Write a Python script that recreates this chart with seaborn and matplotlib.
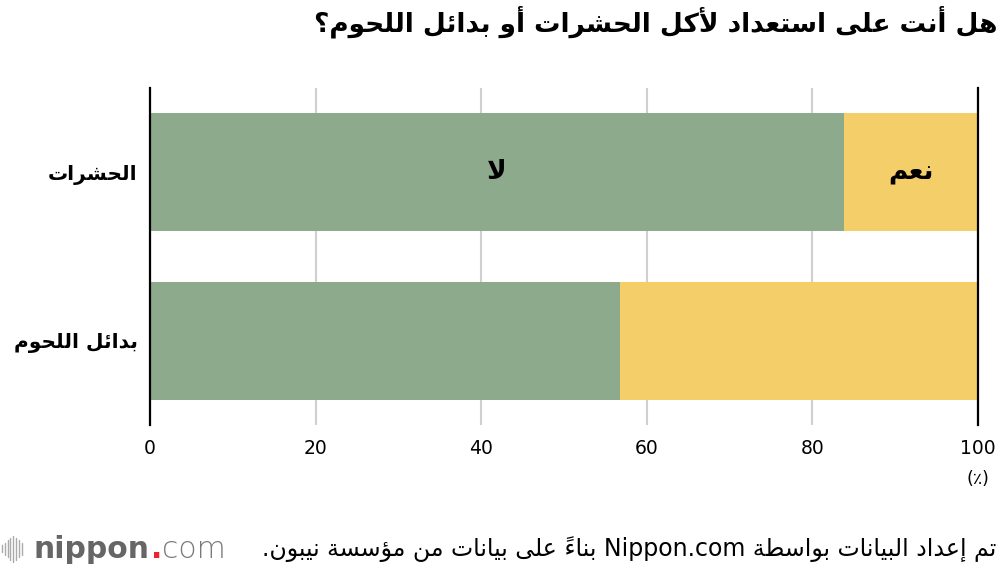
import re
import matplotlib
matplotlib.use("Agg")
import matplotlib.pyplot as plt
from matplotlib.lines import Line2D
import pandas as pd
import seaborn as sns

# data (percent)
categories = ["الحشرات", "بدائل اللحوم"]
no_values = [83.8, 56.8]
yes_values = [16.2, 43.2]
x_ticks = [0, 20, 40, 60, 80, 100]

title = "هل أنت على استعداد لأكل الحشرات أو بدائل اللحوم؟"
label_no = "لا"
label_yes = "نعم"
source = "تم إعداد البيانات بواسطة Nippon.com بناءً على بيانات من مؤسسة نيبون."

GREEN = "#8dab8c"
YELLOW = "#f4ce68"

# matplotlib has no arabic shaping, so map letters to presentation forms
# and put them in visual order by hand
RIGHT = {'\u0622': 0xFE81, '\u0623': 0xFE83, '\u0624': 0xFE85, '\u0625': 0xFE87,
         '\u0627': 0xFE8D, '\u0629': 0xFE93, '\u062F': 0xFEA9, '\u0630': 0xFEAB,
         '\u0631': 0xFEAD, '\u0632': 0xFEAF, '\u0648': 0xFEED, '\u0649': 0xFEEF}
DUAL = {'\u0626': 0xFE89, '\u0628': 0xFE8F, '\u062A': 0xFE95, '\u062B': 0xFE99,
        '\u062C': 0xFE9D, '\u062D': 0xFEA1, '\u062E': 0xFEA5, '\u0633': 0xFEB1,
        '\u0634': 0xFEB5, '\u0635': 0xFEB9, '\u0636': 0xFEBD, '\u0637': 0xFEC1,
        '\u0638': 0xFEC5, '\u0639': 0xFEC9, '\u063A': 0xFECD, '\u0641': 0xFED1,
        '\u0642': 0xFED5, '\u0643': 0xFED9, '\u0644': 0xFEDD, '\u0645': 0xFEE1,
        '\u0646': 0xFEE5, '\u0647': 0xFEE9, '\u064A': 0xFEF1}
LAMALEF = {'\u0622': 0xFEF5, '\u0623': 0xFEF7, '\u0625': 0xFEF9, '\u0627': 0xFEFB}
MARKS = '\u064B-\u0652'


def kind(t):
    if t[0] == 'la':
        return 'R'
    if t[1] in DUAL:
        return 'D'
    if t[1] in RIGHT:
        return 'R'
    if t[1] == '\u0621':
        return 'U'
    return None


def shape(s):
    toks = []
    i = 0
    while i < len(s):
        c = s[i]
        if '\u064B' <= c <= '\u0652' and toks:
            toks[-1][2] += c
        elif c == '\u0644' and i + 1 < len(s) and s[i + 1] in LAMALEF:
            toks.append(['la', s[i + 1], ''])
            i += 1
        else:
            toks.append(['ch', c, ''])
        i += 1
    out = []
    for j, t in enumerate(toks):
        k = kind(t)
        if k is None:
            out.append(t[1] + t[2])
            continue
        if k == 'U':
            out.append(chr(0xFE80) + t[2])
            continue
        prev = kind(toks[j - 1]) if j > 0 else None
        nxt = kind(toks[j + 1]) if j + 1 < len(toks) else None
        jp = prev == 'D'
        jn = k == 'D' and nxt in ('D', 'R')
        base = LAMALEF[t[1]] if t[0] == 'la' else (DUAL.get(t[1]) or RIGHT[t[1]])
        if k == 'R':
            off = 1 if jp else 0
        else:
            off = 3 if (jp and jn) else 1 if jp else 2 if jn else 0
        out.append(chr(base + off) + t[2])
    s = ''.join(out)
    parts = re.split(r'([A-Za-z0-9]+(?:\.[A-Za-z0-9]+)*)', s)
    vis = []
    for p in reversed(parts):
        if re.fullmatch(r'[A-Za-z0-9.]+', p or ' '):
            vis.append(p)
        else:
            # marks go in front of their base so they land over it
            clusters = re.findall('.[' + MARKS + ']*', p)
            vis.append(''.join(c[1:] + c[0] for c in reversed(clusters)))
    return ''.join(vis)


df = pd.DataFrame({"category": categories, "no": no_values, "yes": yes_values})
df["total"] = df["no"] + df["yes"]

sns.set_theme(style="white")
plt.rcParams['font.family'] = ['DejaVu Sans']
plt.rcParams['text.color'] = 'black'

fig = plt.figure(figsize=(10, 5.7), dpi=100)
ax = fig.add_axes([0.15, 0.2544, 0.828, 0.5912])

# stacked bars: full length in yellow, "no" part on top in green
sns.barplot(data=df, x="total", y="category", color=YELLOW, width=0.7,
            saturation=1, ax=ax, zorder=2)
sns.barplot(data=df, x="no", y="category", color=GREEN, width=0.7,
            saturation=1, ax=ax, zorder=3)
for p in ax.patches:
    p.set_edgecolor("none")

ax.set_xlim(0, 100)
ax.set_ylim(1.5, -0.5)
ax.set_xticks(x_ticks)
ax.set_xticklabels([str(v) for v in x_ticks], fontsize=13.5)
ax.set_yticks(range(len(categories)))
ax.set_yticklabels([shape(c) for c in categories], fontsize=14.5, fontweight="bold")
ax.tick_params(axis="x", length=0, pad=10, colors="black")
ax.tick_params(axis="y", length=0, pad=9, colors="black")
ax.set_xlabel("")
ax.set_ylabel("")

ax.set_axisbelow(True)
ax.grid(axis="x", color="#d0d0d0", linewidth=1.5)
ax.grid(axis="y", visible=False)
for side in ["top", "bottom"]:
    ax.spines[side].set_visible(False)
for side in ["left", "right"]:
    ax.spines[side].set_visible(True)
    ax.spines[side].set_color("black")
    ax.spines[side].set_linewidth(1.6)
    ax.spines[side].set_zorder(5)

# legend-like labels inside the first bar
ax.text(no_values[0] / 2, 0, shape(label_no), ha="center", va="center",
        fontsize=19, fontweight="bold", zorder=6)
ax.text(no_values[0] + yes_values[0] / 2, 0, shape(label_yes), ha="center",
        va="center", fontsize=19, fontweight="bold", zorder=6)

ax.text(1.0, -0.16, "(٪)", transform=ax.transAxes, ha="center", va="center",
        fontsize=12.5)

fig.text(0.997, 0.962, shape(title), ha="right", va="center",
         fontsize=19, fontweight="bold")
fig.text(0.996, 0.036, shape(source), ha="right", va="center", fontsize=17)

# nippon.com logo
heights = [0.012, 0.02, 0.03, 0.04, 0.046, 0.04, 0.03, 0.02]
for i, h in enumerate(heights):
    x = 0.002 + i * 0.0028
    fig.add_artist(Line2D([x, x], [0.037 - h / 2, 0.037 + h / 2],
                          color="#aaaaaa", linewidth=1.0))
r = fig.canvas.get_renderer()
t1 = fig.text(0.034, 0.036, "nippon", ha="left", va="center", fontsize=21.5,
              fontweight="bold", color="#666666")
bb = t1.get_window_extent(r)
t2 = fig.text(bb.x1 / 1000 + 0.001, 0.036, ".", ha="left", va="center",
              fontsize=21.5, fontweight="bold", color="#e8262c")
bb = t2.get_window_extent(r)
fig.text(bb.x1 / 1000, 0.036, "com", ha="left", va="center", fontsize=21.5,
         fontweight="light", color="#7a7a7a")

fig.savefig("out.png", dpi=100)
